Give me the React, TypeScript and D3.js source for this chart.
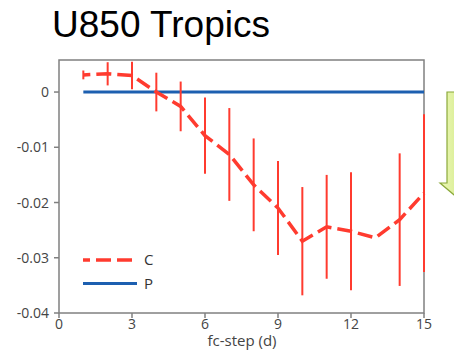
import React from 'react';
import * as d3 from 'd3';

// fc-step (days)
const steps = [1, 2, 3, 4, 5, 6, 7, 8, 9, 10, 11, 12, 13, 14, 15];
// C: mean difference and half-width of the error bar
const cMean = [0.0031, 0.0033, 0.003, 0.0, -0.0026, -0.0079, -0.0113, -0.0168, -0.021, -0.027, -0.0244, -0.0252, -0.0264, -0.0231, -0.0183];
const cErr = [0.0008, 0.0021, 0.0025, 0.0035, 0.0045, 0.0069, 0.0084, 0.0084, 0.0085, 0.0098, 0.0094, 0.0107, 0, 0.012, 0.0143];
// P: reference line
const pMean = [0, 0, 0, 0, 0, 0, 0, 0, 0, 0, 0, 0, 0, 0, 0];

const xTicks = [0, 3, 6, 9, 12, 15];
const yTicks = [0, -0.01, -0.02, -0.03, -0.04];

const W = 454;
const H = 354;
const m = { left: 59, top: 60, right: 424, bottom: 313 };

const RED = '#ff3b2f';
const BLUE = '#1c5fb0';
const GREY = '#808080';
const FONT = '"Open Sans", "DejaVu Sans", sans-serif';

export default function App() {
  const x = d3.scaleLinear().domain([0, 15]).range([m.left, m.right]);
  const y = d3.scaleLinear().domain([-0.04, 0.0058]).range([m.bottom, m.top]);

  const line = d3.line<number>()
    .x((_, i) => x(steps[i]))
    .y(d => y(d));

  // plain hyphen like the original, not the unicode minus d3.format gives
  const yFmt = (v: number) => (v === 0 ? '0' : v.toFixed(2));

  return (
    <svg width={W} height={H} style={{ position: 'absolute', left: 0, top: 0, background: '#fff' }}>
      <defs>
        <linearGradient id="arrowGrad" x1="0" x2="1" y1="0" y2="0">
          <stop offset="0" stopColor="#eef8b8" />
          <stop offset="1" stopColor="#b6dc5c" />
        </linearGradient>
      </defs>

      <text x={52} y={37} fontFamily='"Liberation Sans", Arial, sans-serif' fontSize={37} fill="#000">U850 Tropics</text>

      {/* green arrow, mostly off the right edge */}
      <path d="M447,92 L480,92 L480,183 L488,183 L466,205 L440,183 L447,183 Z"
        fill="url(#arrowGrad)" stroke="#8aa83a" strokeWidth={1.2} />

      {/* frame */}
      <rect x={m.left} y={m.top} width={m.right - m.left} height={m.bottom - m.top}
        fill="none" stroke={GREY} strokeWidth={1.5} />

      {/* y axis */}
      {yTicks.map(t => (
        <g key={'y' + t}>
          <line x1={m.left - 5} x2={m.left} y1={y(t)} y2={y(t)} stroke={GREY} strokeWidth={1.5} />
          <text x={m.left - 10} y={y(t)} dy="0.36em" textAnchor="end" fontFamily={FONT} fontSize={14} fill="#444">{yFmt(t)}</text>
        </g>
      ))}

      {/* x axis */}
      {xTicks.map(t => (
        <g key={'x' + t}>
          <line x1={x(t)} x2={x(t)} y1={m.bottom} y2={m.bottom + 5} stroke={GREY} strokeWidth={1.5} />
          <text x={x(t)} y={m.bottom + 16} textAnchor="middle" fontFamily={FONT} fontSize={14} fill="#444">{t}</text>
        </g>
      ))}
      <text x={242} y={m.bottom + 33} textAnchor="middle" fontFamily={FONT} fontSize={15} fill="#444">fc-step (d)</text>

      {/* P */}
      <path d={line(pMean) || ''} fill="none" stroke={BLUE} strokeWidth={3} />

      {/* C error bars */}
      {steps.map((s, i) => cErr[i] > 0 && (
        <line key={'e' + s} x1={x(s)} x2={x(s)} y1={y(cMean[i] + cErr[i])} y2={y(cMean[i] - cErr[i])}
          stroke={RED} strokeWidth={2} />
      ))}

      {/* C */}
      <path d={line(cMean) || ''} fill="none" stroke={RED} strokeWidth={3.5}
        strokeDasharray="15 6" strokeDashoffset={8} />

      {/* legend */}
      <line x1={83} x2={137} y1={260} y2={260} stroke={RED} strokeWidth={3.5} strokeDasharray="15 6" strokeDashoffset={8} />
      <text x={144} y={260} dy="0.36em" fontFamily={FONT} fontSize={15} fill="#333">C</text>
      <line x1={83} x2={137} y1={283.5} y2={283.5} stroke={BLUE} strokeWidth={3} />
      <text x={144} y={283.5} dy="0.36em" fontFamily={FONT} fontSize={15} fill="#333">P</text>
    </svg>
  );
}
